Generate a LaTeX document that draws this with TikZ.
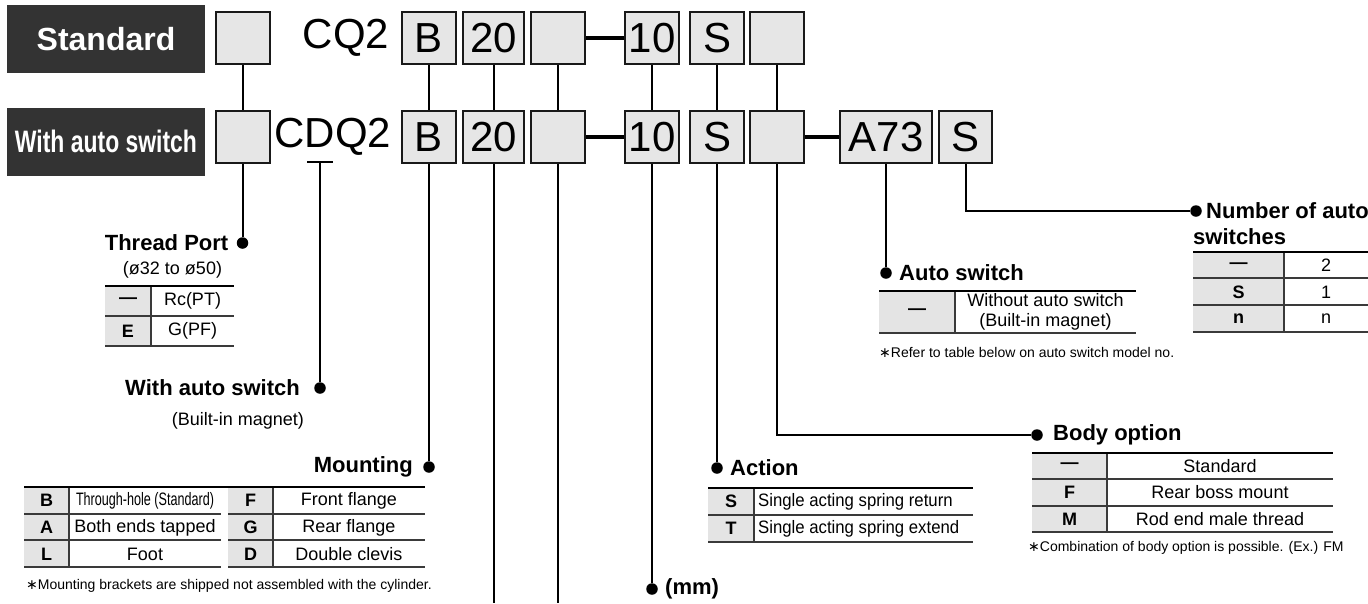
\documentclass[tikz,border=0pt]{standalone}
\usepackage{fontspec}
\setmainfont{Liberation Sans}
\newfontfamily\symfont{DejaVu Sans}
\usepackage{graphicx}
\usepackage{tikz}
\usetikzlibrary{positioning}
\definecolor{TagDark}{HTML}{333333}
\definecolor{BoxGray}{HTML}{E6E6E6}
\definecolor{CellGray}{HTML}{E4E4E4}
\definecolor{RuleGray}{HTML}{3A3A3A}
\newcommand\codefont{\fontsize{42}{44}\selectfont}
\newcommand\tagfont{\fontsize{32}{34}\selectfont\bfseries}
\newcommand\headfont{\fontsize{22}{24}\selectfont\bfseries}
\newcommand\cellfont{\fontsize{18}{19.5}\selectfont}
\newcommand\notefont{\fontsize{14}{16}\selectfont}
\newcommand\notestar{{\symfont ∗}}

\begin{document}
\begin{tikzpicture}[x=1pt, y=-1pt, every node/.style={inner sep=0pt}, tag/.style={fill=TagDark, text=white, minimum width=198pt, minimum height=68pt, font=\tagfont}, code/.style={draw=black!90, line width=2pt, fill=BoxGray, minimum width=54pt, minimum height=52pt, font=\codefont}, wire/.style={line width=2pt}, link/.style={line width=4pt}, dot/.style={circle, fill=black, minimum size=11.5pt}, head/.style={font=\headfont}, sub/.style={font=\cellfont}, key/.style={font=\cellfont\bfseries}, val/.style={font=\cellfont, align=center}, note/.style={font=\notefont, anchor=west}, toprule/.style={line width=2.5pt}, rowrule/.style={line width=1.1pt, color=RuleGray}, colrule/.style={line width=1.3pt, color=RuleGray}]
\useasboundingbox (0,0) rectangle (1368,603);
\node[tag] (std) at (106,39) {Standard};
\node[tag] (auto) at (106,141.5) {\fontsize{31}{33}\selectfont\scalebox{0.74}[1]{With auto switch}};
% standard row
\node[code] (t1) at (242.5,38) {};
\node[font=\codefont] (cq) at (346,38) {CQ2};
\node[code] (tB) at (429,38) {B};
\node[code, minimum width=61pt] (t20) at (493.5,38) {20};
\node[code] (tE) at (558,38) {};
\node[code] (t10) at (652,38) {10};
\node[code] (tS) at (717,38) {S};
\node[code] (tX) at (777,38) {};
% auto switch row
\node[code] (b1) at (242.5,137) {};
\node[font=\codefont] (cdq) at (333,137) {CDQ2};
\node[code] (bB) at (429,137) {B};
\node[code, minimum width=61pt] (b20) at (493.5,137) {20};
\node[code] (bE) at (558,137) {};
\node[code] (b10) at (652,137) {10};
\node[code] (bS) at (717,137) {S};
\node[code] (bX) at (777,137) {};
\node[code, minimum width=92pt] (bA) at (886,137) {A73};
\node[code, minimum width=53pt] (bS2) at (965.5,137) {S};
\foreach \n in {1,B,20,E,10,S,X} \draw[wire] (t\n) -- (b\n);
\draw[link] (tE) -- (t10); \draw[link] (bE) -- (b10); \draw[link] (bX) -- (bA);
% leaders
\node[dot] (dTP) at (242.5,243) {};
\coordinate (dmark) at (320,162);
\node[dot] (dAS) at (320,388) {};
\node[dot] (dMT) at (429,467) {};
\coordinate (e20) at (493.5,603);
\coordinate (eE) at (558,603);
\node[dot] (dMM) at (652,589) {};
\node[dot] (dAC) at (717,468) {};
\node[dot] (dBO) at (1037,435) {};
\node[dot] (dSW) at (886,273) {};
\node[dot] (dNA) at (1196,211) {};
\draw[wire] (b1) -- (dTP);
\draw[wire] ([xshift=-13pt]dmark) -- ([xshift=13pt]dmark); \draw[wire] (dmark) -- (dAS);
\draw[wire] (bB) -- (dMT); \draw[wire] (b20) -- (e20); \draw[wire] (bE) -- (eE); \draw[wire] (b10) -- (dMM); \draw[wire] (bS) -- (dAC);
\draw[wire] (bX) |- (dBO); \draw[wire] (bA) -- (dSW); \draw[wire] (bS2) |- (dNA);
% thread port
\node[head, anchor=east] (hTP) at ([xshift=-14pt]dTP.center) {Thread Port};
\node[sub] (sTP) at (172.5,270) {(ø32 to ø50)};
\fill[CellGray] (105,286) rectangle (151,346);
\draw[rowrule] (105,316) -- (234,316) (105,346) -- (234,346);
\draw[colrule] (151,286) -- (151,346);
\draw[toprule] (105,286) -- (234,286);
\node[key] (kTP1) at (128,301) {—}; \node[val] (vTP1) at (192.5,301) {Rc(PT)};
\node[key] (kTP2) at (128,331) {E}; \node[val] (vTP2) at (192.5,331) {G(PF)};
% with auto switch
\node[head, anchor=east] (hAS) at ([xshift=-20pt]dAS.center) {With auto switch};
\node[sub] (sAS) at (238,421) {(Built-in magnet)};
% mounting
\node[head, anchor=east] (hMT) at ([xshift=-16pt]dMT.center) {Mounting};
\fill[CellGray] (24,487) rectangle (69,567); \fill[CellGray] (228,487) rectangle (273,567);
\draw[rowrule] (24,514) -- (221,514) (24,540) -- (221,540) (24,567) -- (221,567) (228,514) -- (425,514) (228,540) -- (425,540) (228,567) -- (425,567);
\draw[colrule] (69,487) -- (69,567) (273,487) -- (273,567);
\draw[toprule] (24,487) -- (425,487);
\foreach \k/\v [count=\i] in {B/{\scalebox{0.7}[1]{Through-hole (Standard)}}, A/{Both ends tapped}, L/Foot} {\node[key] (kML\i) at (46.5,474+26.7*\i) {\k}; \node[val] (vML\i) at (145,474+26.7*\i) {\v};}
\foreach \k/\v [count=\i] in {F/{Front flange}, G/{Rear flange}, D/{Double clevis}} {\node[key] (kMR\i) at (250.5,474+26.7*\i) {\k}; \node[val] (vMR\i) at (349,474+26.7*\i) {\v};}
\node[note] (nMT) at (26,586) {\notestar Mounting brackets are shipped not assembled with the cylinder.};
% bore size
\node[head, anchor=west] (hMM) at ([xshift=13pt]dMM.center) {(mm)};
% action
\node[head, anchor=west] (hAC) at ([xshift=13pt]dAC.center) {Action};
\fill[CellGray] (708,488) rectangle (754,542);
\draw[rowrule] (708,515) -- (973,515) (708,542) -- (973,542);
\draw[colrule] (754,488) -- (754,542);
\draw[toprule] (708,488) -- (973,488);
\node[key] (kAC1) at (731,501.5) {S}; \node[val, anchor=west] (vAC1) at (758,501.5) {\scalebox{0.93}[1]{Single acting spring return}};
\node[key] (kAC2) at (731,528.5) {T}; \node[val, anchor=west] (vAC2) at (758,528.5) {\scalebox{0.93}[1]{Single acting spring extend}};
% body option
\node[head, anchor=west] (hBO) at ([xshift=16pt]dBO.center) {Body option};
\fill[CellGray] (1032,453) rectangle (1107,532);
\draw[rowrule] (1032,479) -- (1333,479) (1032,506) -- (1333,506) (1032,532) -- (1333,532);
\draw[colrule] (1107,453) -- (1107,532);
\draw[toprule] (1032,453) -- (1333,453);
\foreach \k/\v [count=\i] in {—/Standard, F/{Rear boss mount}, M/{Rod end male thread}} {\node[key] (kBO\i) at (1069.5,439.5+26.5*\i) {\k}; \node[val] (vBO\i) at (1220,439.5+26.5*\i) {\v};}
\node[note] (nBO) at (1028,548) {\notestar Combination of body option is possible. (Ex.) FM};
% auto switch
\node[head, anchor=west] (hSW) at ([xshift=13pt]dSW.center) {Auto switch};
\fill[CellGray] (879,291) rectangle (955,333);
\draw[rowrule] (879,333) -- (1136,333);
\draw[colrule] (955,291) -- (955,333);
\draw[toprule] (879,291) -- (1136,291);
\node[key] (kSW1) at (917,312) {—}; \node[val] (vSW1) at (1045.5,312) {Without auto switch\\(Built-in magnet)};
\node[note] (nSW) at (879,352) {\notestar Refer to table below on auto switch model no.};
% number of auto switches
\node[head, anchor=west] (hNA) at ([xshift=10pt]dNA.center) {Number of auto};
\node[head, anchor=west] (hNA2) at (1193,237) {switches};
\fill[CellGray] (1193,252) rectangle (1284,332);
\draw[rowrule] (1193,278) -- (1368,278) (1193,305) -- (1368,305) (1193,332) -- (1368,332);
\draw[colrule] (1284,252) -- (1284,332);
\draw[toprule] (1193,252) -- (1368,252);
\foreach \k/\v [count=\i] in {—/2, S/1, n/n} {\node[key] (kNA\i) at (1238.5,238.5+26.7*\i) {\k}; \node[val] (vNA\i) at (1326,238.5+26.7*\i) {\v};}
\end{tikzpicture}
\end{document}
